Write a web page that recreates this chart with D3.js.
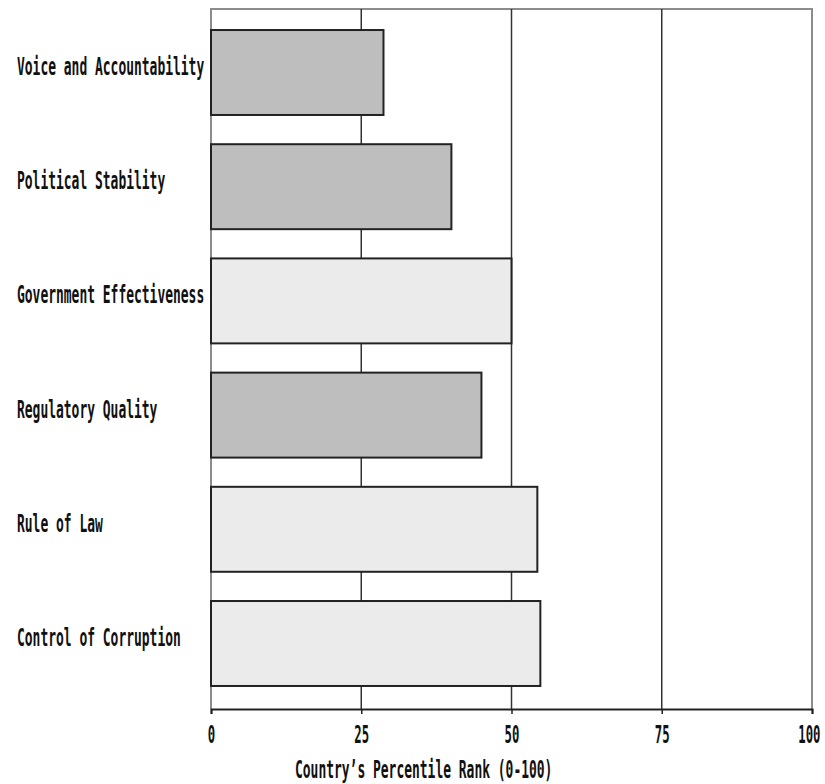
<!DOCTYPE html>
<html><head><meta charset="utf-8">
<script src="https://cdn.jsdelivr.net/npm/d3@7"></script>
<style>body{margin:0;background:#fff}text{font-family:"DejaVu Sans Mono",monospace;font-weight:bold;fill:#111}</style>
</head><body>
<script>
const categories = ["Voice and Accountability","Political Stability","Government Effectiveness","Regulatory Quality","Rule of Law","Control of Corruption"];
const values = [28.7, 40, 50, 45, 54.3, 54.8];
const groups = ["dark","dark","light","dark","light","light"];
const tickValues = [0, 25, 50, 75, 100];
const axisTitle = "Country\u2019s Percentile Rank (0-100)";

(function(){
const W = 825, H = 784, CW = 7.8, FS = 24;
const svg = d3.select("body").append("svg").attr("width", W).attr("height", H);
const x = d3.scaleLinear().domain([0, 100]).range([211, 812]);
const y = d3.scaleBand().domain(categories).range([15.4, 700.6]).paddingInner(0.256).paddingOuter(0.128);
const fill = {dark: "#bebebe", light: "#ebebeb"};
const yTop = 9, yBot = 709;

svg.append("path").attr("d", `M${x(0)},${yBot}V${yTop}H${x(100)}V${yBot}`)
  .attr("fill", "none").attr("stroke", "#8c8c8c").attr("stroke-width", 2);

svg.selectAll("line.grid").data(tickValues.filter(v => v > 0 && v < 100)).join("line")
  .attr("class", "grid").attr("x1", d => x(d)).attr("x2", d => x(d))
  .attr("y1", yTop).attr("y2", yBot).attr("stroke", "#333").attr("stroke-width", 1.5);

svg.selectAll("rect.bar").data(categories).join("rect")
  .attr("class", "bar")
  .attr("x", x(0)).attr("y", d => y(d))
  .attr("width", (d, i) => x(values[i]) - x(0)).attr("height", y.bandwidth())
  .attr("fill", (d, i) => fill[groups[i]])
  .attr("stroke", "#222").attr("stroke-width", 2);

svg.selectAll("text.cat").data(categories).join("text")
  .attr("class", "cat").attr("x", 17)
  .attr("y", d => y(d) + y.bandwidth() / 2 + 2.5)
  .attr("font-size", FS)
  .attr("textLength", d => d.length * CW).attr("lengthAdjust", "spacingAndGlyphs")
  .text(d => d);

const ax = svg.append("g").attr("transform", `translate(0,${yBot})`)
  .call(d3.axisBottom(x).tickValues(tickValues).tickSize(5).tickPadding(16).tickFormat(d3.format("d")));
ax.select(".domain").attr("stroke", "#222").attr("stroke-width", 2);
ax.selectAll(".tick line").attr("stroke", "#222").attr("stroke-width", 1.5);
ax.selectAll(".tick text").attr("font-size", FS).attr("font-family", null)
  .attr("dy", null).attr("y", 34)
  .attr("text-anchor", d => d === 100 ? "end" : "middle")
  .attr("x", d => d === 100 ? 8 : 0)
  .each(function(d){ const s = String(d);
    d3.select(this).attr("textLength", s.length * 7.4).attr("lengthAdjust", "spacingAndGlyphs"); })
  .style("fill", "#111");

svg.append("text").attr("x", 295).attr("y", 778).attr("font-size", FS)
  .attr("textLength", axisTitle.length * CW).attr("lengthAdjust", "spacingAndGlyphs")
  .text(axisTitle);
})();
</script>
</body></html>
